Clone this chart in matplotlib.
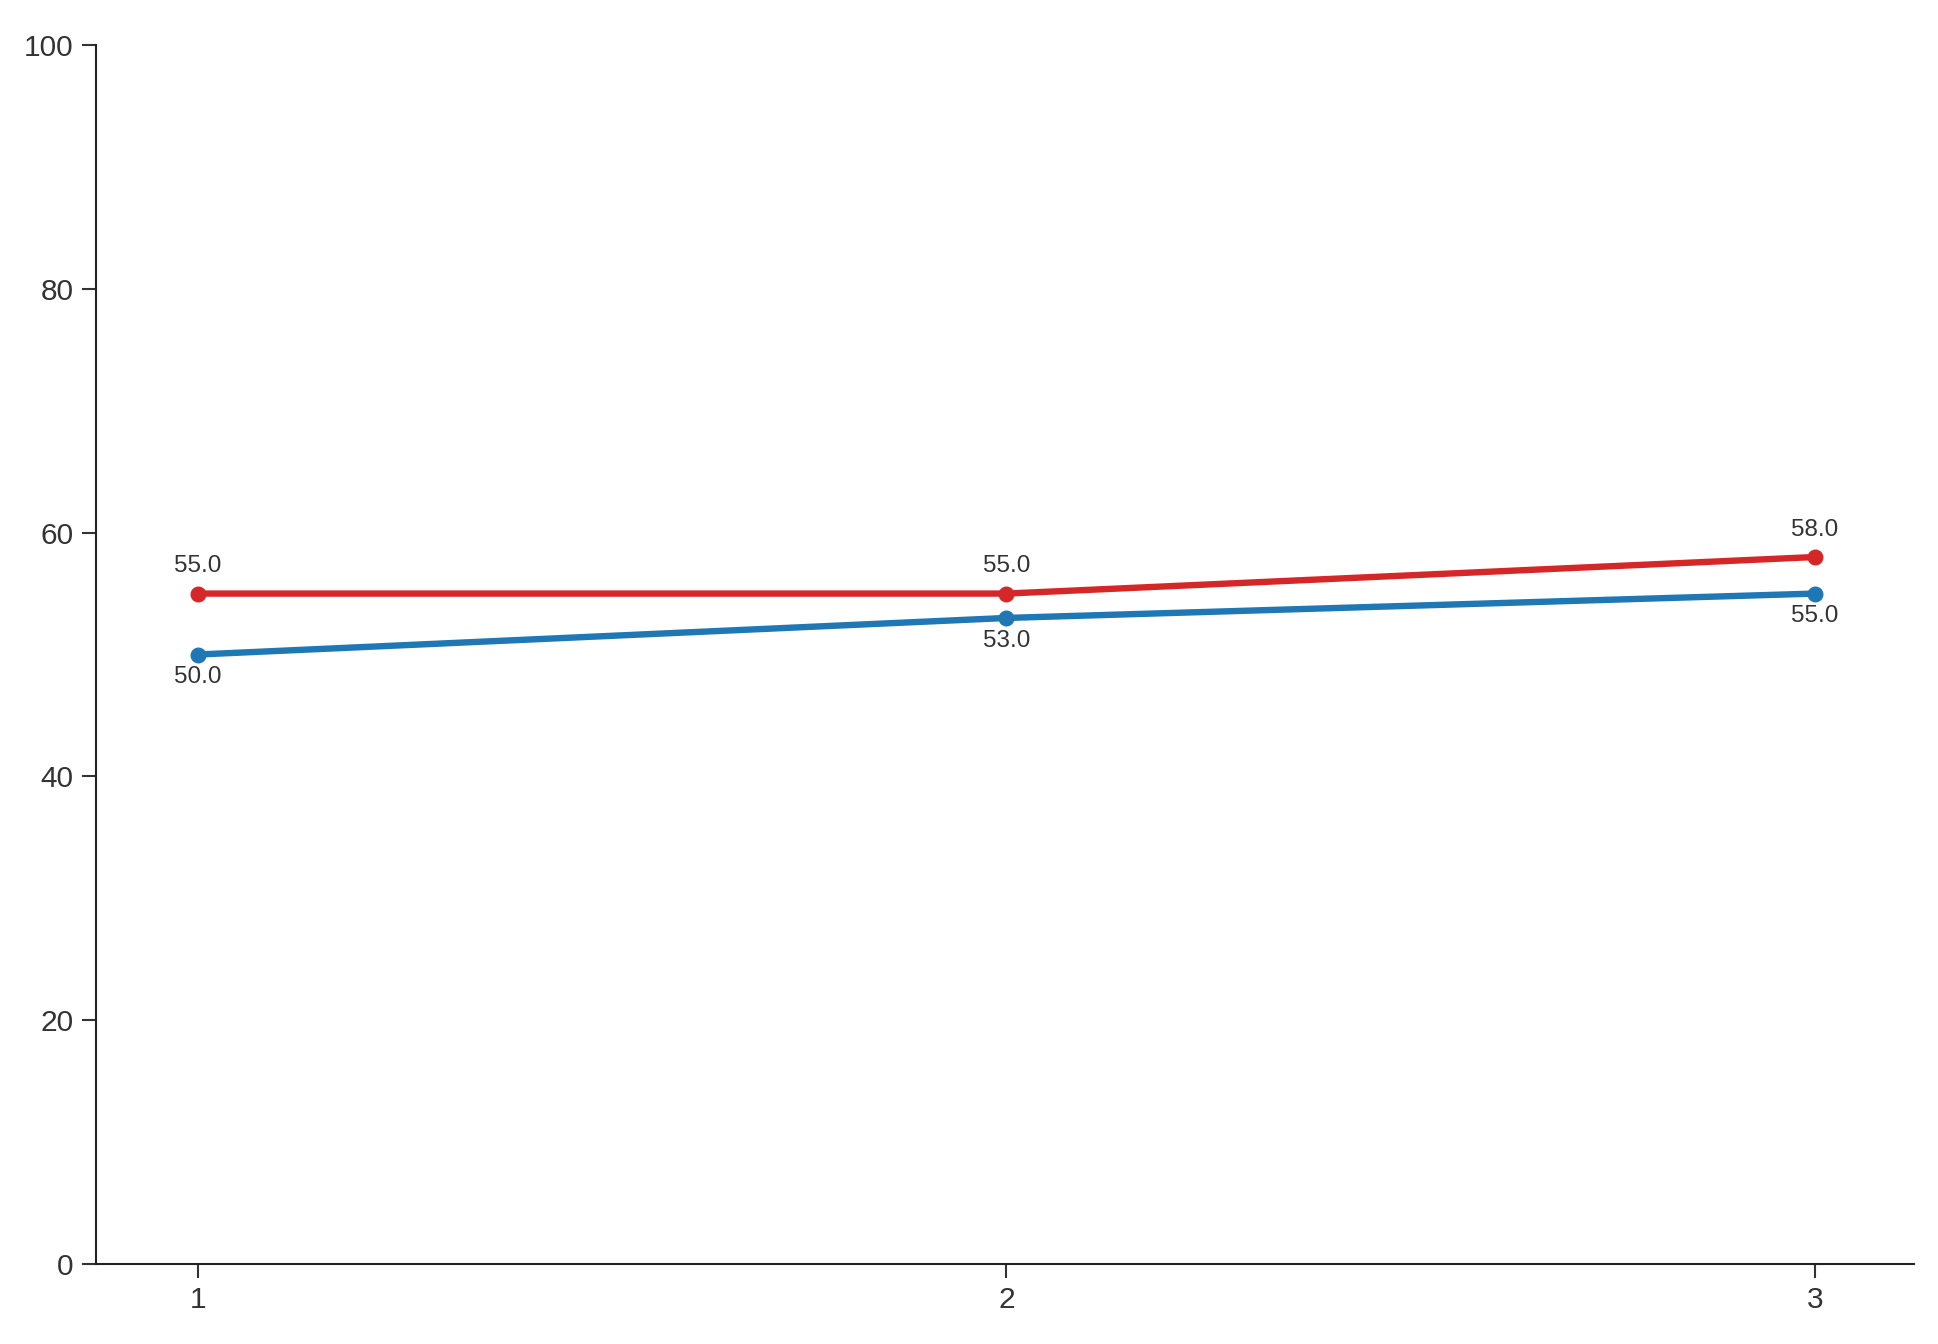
import matplotlib
matplotlib.use("Agg")
import matplotlib.pyplot as plt

x_values = [1, 2, 3]
series_red = [55.0, 55.0, 58.0]
series_blue = [50.0, 53.0, 55.0]
y_ticks = [0, 20, 40, 60, 80, 100]

plt.rcParams['font.family'] = ['Liberation Sans', 'DejaVu Sans']

fig = plt.figure(figsize=(19.38, 13.44), dpi=100)
ax = fig.add_axes([0.0495, 0.0595, 0.9381, 0.907])

red = '#d62728'
blue = '#1f77b4'
ax.plot(x_values, series_red, color=red, lw=4.6, marker='o', ms=10.5, zorder=3)
ax.plot(x_values, series_blue, color=blue, lw=4.6, marker='o', ms=10.5, zorder=3)

for x, y in zip(x_values, series_red):
    ax.annotate(f"{y:.1f}", (x, y), xytext=(0, 19.5), textcoords='offset points',
                ha='center', va='center', fontsize=17.5, color='#333333')
for x, y in zip(x_values, series_blue):
    ax.annotate(f"{y:.1f}", (x, y), xytext=(0, -16.5), textcoords='offset points',
                ha='center', va='center', fontsize=17.5, color='#333333')

ax.set_xlim(0.874, 3.1225)
ax.set_ylim(0, 100)
ax.set_xticks(x_values)
ax.set_xticklabels([str(v) for v in x_values])
ax.set_yticks(y_ticks)
ax.set_yticklabels([str(v) for v in y_ticks])

for s in ['top', 'right']:
    ax.spines[s].set_visible(False)
for s in ['left', 'bottom']:
    ax.spines[s].set_linewidth(1.5)
    ax.spines[s].set_color('#222222')
ax.tick_params(axis='both', length=10, width=1.5, color='#333333',
               labelsize=21.5, labelcolor='#333333', pad=6)

fig.savefig('out.png', dpi=100)
